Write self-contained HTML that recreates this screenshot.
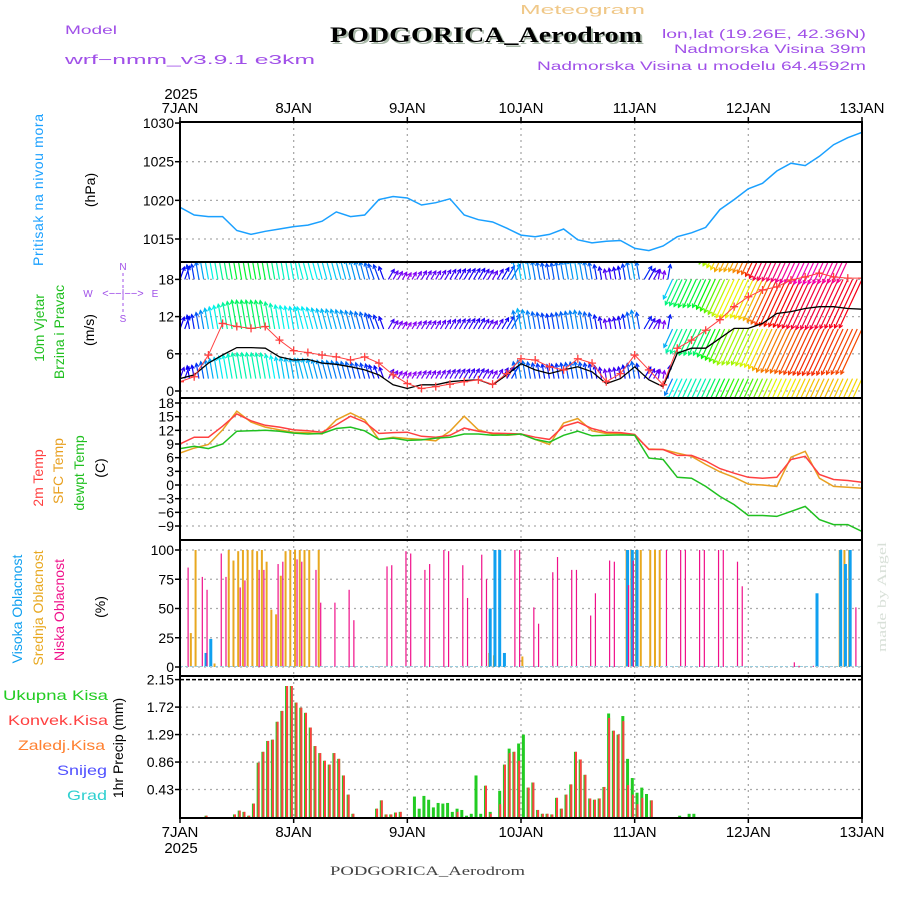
<!DOCTYPE html>
<html><head><meta charset="utf-8"><style>
html,body{margin:0;padding:0;background:#fff;width:900px;height:900px;overflow:hidden}
svg text{font-family:"Liberation Sans",sans-serif}
</style></head><body>
<svg id="chart" xmlns="http://www.w3.org/2000/svg" width="900" height="900" viewBox="0 0 900 900">
<defs>
<clipPath id="clipP"><rect x="180" y="122" width="682" height="140"/></clipPath>
<clipPath id="clipW"><rect x="180" y="262" width="682" height="136"/></clipPath>
<clipPath id="clipT"><rect x="180" y="398" width="682" height="142"/></clipPath>
</defs>
<g>
<text x="65" y="34" font-size="12" fill="#a050e8" textLength="52" lengthAdjust="spacingAndGlyphs">Model</text>
<text x="65" y="64" font-size="13" fill="#a050e8" textLength="250" lengthAdjust="spacingAndGlyphs">wrf−nmm_v3.9.1 e3km</text>
<text x="520" y="14" font-size="13" fill="#f0c888" textLength="125" lengthAdjust="spacingAndGlyphs">Meteogram</text>
<text x="332" y="44" font-size="22" font-weight="bold" fill="#a8b8a8" style="font-family:'Liberation Serif',serif" textLength="312" lengthAdjust="spacingAndGlyphs">PODGORICA_Aerodrom</text>
<text x="330" y="42" font-size="22" font-weight="bold" fill="#000" style="font-family:'Liberation Serif',serif" textLength="312" lengthAdjust="spacingAndGlyphs">PODGORICA_Aerodrom</text>
<text x="866" y="38" font-size="11.5" fill="#a050e8" text-anchor="end" textLength="204" lengthAdjust="spacingAndGlyphs">lon,lat (19.26E, 42.36N)</text>
<text x="866" y="53" font-size="11.5" fill="#a050e8" text-anchor="end" textLength="192" lengthAdjust="spacingAndGlyphs">Nadmorska Visina 39m</text>
<text x="866" y="70" font-size="11.5" fill="#a050e8" text-anchor="end" textLength="329" lengthAdjust="spacingAndGlyphs">Nadmorska Visina u modelu 64.4592m</text>
<text x="330" y="875" font-size="13" fill="#444" style="font-family:'Liberation Serif',serif" textLength="195" lengthAdjust="spacingAndGlyphs">PODGORICA_Aerodrom</text>
<text transform="translate(886,652) rotate(-90)" font-size="13" fill="#d8e0d8" textLength="110" lengthAdjust="spacingAndGlyphs" style="font-family:'Liberation Serif',serif">made by Angel</text>
</g>
<g font-size="14">
<text transform="translate(43,190) rotate(-90)" text-anchor="middle" fill="#1aa0ff" textLength="152">Pritisak na nivou mora</text>
<text transform="translate(95,190) rotate(-90)" text-anchor="middle" fill="#000">(hPa)</text>
<text transform="translate(44,328) rotate(-90)" text-anchor="middle" fill="#20c020">10m Vjetar</text>
<text transform="translate(64,332) rotate(-90)" text-anchor="middle" fill="#20c020">Brzina i Pravac</text>
<text transform="translate(94,330) rotate(-90)" text-anchor="middle" fill="#000">(m/s)</text>
<g fill="#a050e8" font-size="10" text-anchor="middle">
<text x="123" y="270">N</text><text x="88" y="297">W</text><text x="155" y="297">E</text><text x="123" y="322">S</text>
<text x="123" y="297" font-size="11">&lt;−−|−−&gt;</text>
<line x1="123" y1="273" x2="123" y2="312" stroke="#a050e8" stroke-dasharray="3,3"/>
</g>
<text transform="translate(43,478) rotate(-90)" text-anchor="middle" fill="#ff4040">2m Temp</text>
<text transform="translate(63,471) rotate(-90)" text-anchor="middle" fill="#e8a020">SFC Temp</text>
<text transform="translate(84,473) rotate(-90)" text-anchor="middle" fill="#20c020">dewpt Temp</text>
<text transform="translate(105,468) rotate(-90)" text-anchor="middle" fill="#000">(C)</text>
<text transform="translate(22,609) rotate(-90)" text-anchor="middle" fill="#10a0f0">Visoka Oblacnost</text>
<text transform="translate(43,608) rotate(-90)" text-anchor="middle" fill="#e8a820">Srednja Oblacnost</text>
<text transform="translate(64,610) rotate(-90)" text-anchor="middle" fill="#f0108a">Niska Oblacnost</text>
<text transform="translate(105,607) rotate(-90)" text-anchor="middle" fill="#000">(%)</text>
<text transform="translate(123,748) rotate(-90)" text-anchor="middle" fill="#000">1hr Precip (mm)</text>
<text x="3" y="700" fill="#22cc22" textLength="105" lengthAdjust="spacingAndGlyphs">Ukupna Kisa</text>
<text x="8" y="725" fill="#ff4040" textLength="100" lengthAdjust="spacingAndGlyphs">Konvek.Kisa</text>
<text x="18" y="750" fill="#ff8030" textLength="87" lengthAdjust="spacingAndGlyphs">Zaledj.Kisa</text>
<text x="57" y="775" fill="#5050ff" textLength="50" lengthAdjust="spacingAndGlyphs">Snijeg</text>
<text x="67" y="800" fill="#30d0d0" textLength="40" lengthAdjust="spacingAndGlyphs">Grad</text>
</g>
<g id="grid"></g>
<g id="marks"></g>
<g id="frames"></g>
</svg>
<script>
// ---- data ----
const dayLabels = ["7JAN","8JAN","9JAN","10JAN","11JAN","12JAN","13JAN"];
// 3-hourly series, hours 0..144
const pressure = [1019.1,1018.1,1017.9,1017.9,1016.1,1015.6,1016.0,1016.3,1016.6,1016.8,1017.3,1018.5,1017.9,1018.1,1020.1,1020.5,1020.3,1019.4,1019.7,1020.2,1018.1,1017.5,1017.2,1016.4,1015.5,1015.3,1015.6,1016.3,1014.9,1014.5,1014.7,1014.8,1013.8,1013.5,1014.1,1015.3,1015.8,1016.5,1018.8,1020.1,1021.5,1022.2,1023.8,1024.8,1024.5,1025.7,1027.2,1028.1,1028.8];
const windSpeed = [2.0,2.6,4.5,5.8,7.0,7.0,6.9,5.5,5.0,5.1,4.5,4.3,3.9,3.4,2.6,1.0,0.4,1.0,1.0,1.5,1.7,1.8,1.0,2.6,4.4,3.4,2.8,3.4,3.9,3.1,1.2,2.0,3.9,1.8,0.7,6.1,6.9,6.9,8.5,10.1,10.1,10.9,12.5,12.8,13.3,13.6,13.6,13.3,13.2];
const windGust = [1.5,2.3,5.8,10.9,10.4,10.1,10.4,8.2,6.5,6.2,5.8,5.5,5.0,5.5,4.5,2.6,1.2,0.4,0.7,1.1,1.5,1.8,1.1,2.8,5.2,5.0,3.9,3.4,5.2,4.5,1.5,2.8,5.8,3.4,1.0,6.9,8.2,9.8,11.5,13.6,15.2,16.3,16.8,17.9,18.4,19.0,18.4,18.2,18.2];
const windDir = [70,100,100,100,100,100,100,100,100,105,105,105,105,105,110,60,60,60,60,60,60,60,60,60,100,100,100,100,100,100,100,100,100,60,80,245,245,245,245,245,245,245,245,245,245,245,245,245,245];
const temp2m = [9.0,10.5,10.5,12.9,15.6,14.1,13.1,12.7,12.1,11.9,11.6,13.2,15.1,13.8,11.3,11.5,11.6,10.7,10.5,10.9,12.5,11.8,11.4,11.3,11.2,10.5,10.0,12.9,13.8,12.4,11.6,11.5,11.1,7.8,7.8,6.5,6.5,5.3,3.6,2.6,1.7,1.5,1.7,5.6,6.3,2.3,1.2,1.0,0.6];
const tempSfc = [7.0,8.1,8.9,12.1,16.2,13.8,12.7,12.1,11.6,11.5,11.2,14.3,15.8,14.3,10.0,10.5,10.2,10.0,9.7,11.8,15.1,12.1,11.2,10.9,11.2,10.0,8.9,13.6,14.6,11.9,11.3,11.3,10.9,7.9,7.8,7.0,6.3,4.5,2.9,1.7,0.2,0.0,-0.3,6.1,7.4,1.5,-0.3,-0.5,-0.7];
const tempDew = [8.0,8.5,8.0,9.0,11.8,11.9,12.0,11.8,11.4,11.2,11.3,12.4,12.7,11.9,10.0,10.3,9.8,9.9,10.3,10.5,11.2,11.2,10.9,11.0,11.2,10.0,9.4,10.9,11.8,10.8,10.9,11.0,10.9,5.9,5.6,1.7,1.5,-0.3,-2.5,-4.3,-6.7,-6.7,-6.9,-5.8,-4.7,-7.6,-8.7,-8.7,-10.2];
// hourly precipitation (hour index, total mm, convective mm)
const precipHour = [5,11,12,13,14,15,16,17,18,19,20,21,22,23,24,25,26,27,28,29,30,31,32,33,34,35,36,41,42,43,44,45,46,49,50,51,52,53,54,55,56,57,58,59,60,61,62,63,64,65,67,68,69,70,71,72,73,74,75,76,77,78,79,80,81,82,83,84,85,86,87,88,89,90,91,92,93,94,95,96,97,98,99,105,107,108];
const precipTotal = [.02,.04,.10,.08,.02,.21,.85,1.02,1.19,1.21,1.49,1.66,2.05,2.05,1.79,1.71,1.63,1.40,1.11,1.00,.88,.82,1.00,.91,.65,.35,.05,.13,.26,.04,.04,.07,.08,.32,.13,.33,.27,.15,.22,.21,.22,.08,.13,.11,.02,.05,.65,.05,.49,.08,.41,.82,1.07,1.02,1.15,1.29,.46,.54,.11,.05,.05,.04,.30,.13,.35,.51,1.02,.90,.66,.29,.27,.29,.47,1.62,1.35,1.29,1.58,.91,.61,.38,.46,.36,.26,.02,.05,.05];
const precipConv = [.02,.04,.10,.08,.02,.21,.85,1.02,1.19,1.21,1.49,1.66,2.05,2.05,1.79,1.71,1.63,1.40,1.11,1.00,.88,.82,1.00,.91,.65,.35,.05,.13,.26,.04,.04,.07,.08,0,0,0,0,0,0,0,0,0,.08,0,0,0,0,0,.49,.05,.2,.82,1.0,1.02,.88,0,.46,.54,.11,.05,.05,.04,.30,.13,.35,.51,1.02,.90,.66,.29,.27,.29,.47,1.55,1.35,1.29,1.5,.5,.35,.2,.3,0,.26,0,0,0];
// cloud cover bars (hour index, %)
const lowHour = [1,4,5,8,9,12,13,16,17,20,21,24,25,28,29,32,35,36,43,44,47,48,51,52,55,56,59,60,63,64,70,71,74,75,78,79,82,83,86,87,90,91,94,95,102,105,106,109,110,113,114,117,118,129,130,133,142];
const lowVal = [85,77,66,97,77,68,74,83,83,88,90,92,90,83,55,55,66,40,86,87,99,97,83,88,100,99,87,59,96,75,100,100,51,37,81,94,83,83,44,63,91,90,70,91,100,100,100,100,100,100,100,90,69,4,1,1,51];
const midHour = [2,3,7,10,11,12,13,14,15,16,17,18,19,20,21,22,23,24,25,26,27,29,65,66,72,94,95,96,97,99,100,101,139,140,141];
const midVal = [29,100,3,100,91,99,100,100,100,99,100,90,49,45,78,99,100,100,100,100,100,100,12,10,9,100,100,100,100,100,100,100,100,100,100];
const highHour = [5,6,65,66,67,68,94,95,96,134,139,140,141];
const highVal = [12,24,50,100,100,12,100,100,100,63,100,88,100];
// tick labels
const pTicks = [1030,1025,1020,1015];
const wTicks = [18,12,6,0];
const tTicks = [18,15,12,9,6,3,0,-3,-6,-9];
const cTicks = [100,75,50,25,0];
const rTicks = [2.15,1.72,1.29,0.86,0.43];
const windRows = [2,10,18,26];

// ---- scales ----
const X0=180, X1=862;
const xH = h => X0 + h*(X1-X0)/144;
const yP = p => 239 - (p-1015)*7.73;
const yW = w => 391 - w*6.2;
const yT = t => 403 + (18-t)*4.556;
const yC = c => 667 - c*1.17;
const yR = v => 817 - v*63.9;
const NS="http://www.w3.org/2000/svg";
function mk(tag, attrs, parent){const e=document.createElementNS(NS,tag);for(const k in attrs)e.setAttribute(k,attrs[k]);parent.appendChild(e);return e;}
const grid=document.getElementById('grid'), marks=document.getElementById('marks'), frames=document.getElementById('frames');

const panels=[{top:122,bot:262,ticks:pTicks,f:yP,name:'pressure'},
 {top:262,bot:398,ticks:wTicks,f:yW,name:'wind'},
 {top:398,bot:540,ticks:tTicks,f:yT,name:'temp'},
 {top:540,bot:676,ticks:cTicks,f:yC,name:'cloud'},
 {top:676,bot:818,ticks:rTicks,f:yR,name:'precip'}];
panels.forEach(p=>{
  for(let d=1;d<6;d++){const l=mk('line',{x1:xH(d*24),x2:xH(d*24),y1:p.top,y2:p.bot,stroke:'#aaa','stroke-width':1.3,'stroke-dasharray':'2,4'},grid);
    
    }
  p.ticks.forEach(t=>{const y=p.f(t);
    if(y>p.top+4&&y<p.bot-4){const l=mk('line',{x1:X0,x2:X1,y1:y,y2:y,stroke:'#aaa','stroke-width':1.3,'stroke-dasharray':'2,4'},grid);
      
      }
    mk('line',{x1:X0-5,x2:X0,y1:y,y2:y,stroke:'#000','stroke-width':1.5},frames);
    const tx=mk('text',{x:X0-6,y:y+5,'font-size':14,'text-anchor':'end',fill:'#000'},frames);
    tx.textContent = p.name==='precip'? t.toFixed(2) : String(t).replace('-','−');
    
    
  });
});
function line(arr, f, color, name, clip, w){
  const pts=arr.map((v,i)=>xH(i*3).toFixed(1)+','+f(v).toFixed(1)).join(' ');
  const e=mk('polyline',{points:pts,fill:'none',stroke:color,'stroke-width':w||1.5,'clip-path':clip},marks);
  
  
}
line(pressure,yP,'#1aa0ff','pressure-line','url(#clipP)');
// wind vectors
function hue(s){return ((285 - s*22)%360+360)%360;}
const rowFactor=[0.8,0.92,1.0,1.1];
const wg=mk('g',{'clip-path':'url(#clipW)'},marks);


for(let h=0;h<=144;h++){
  const i=Math.min(47,Math.floor(h/3)), fr=(h-i*3)/3;
  const s=windSpeed[i]+(windSpeed[i+1]-windSpeed[i])*fr;
  const d=(fr<0.5?windDir[i]:windDir[i+1])*Math.PI/180;
  windRows.forEach((b,r)=>{
    const ss=s*rowFactor[r], L=ss*3.6+6;
    const x0=xH(h), y0=yW(b), x1=x0+Math.cos(d)*L, y1=y0-Math.sin(d)*L;
    const col='hsl('+hue(ss)+',100%,48%)';
    const ln=mk('line',{x1:x0,y1:y0,x2:x1,y2:y1,stroke:col,'stroke-width':1.2},wg);
    
    
    const a1=d+Math.PI-0.5,a2=d+Math.PI+0.5;
    mk('polyline',{points:(x1+Math.cos(a1)*4)+','+(y1-Math.sin(a1)*4)+' '+x1+','+y1+' '+(x1+Math.cos(a2)*4)+','+(y1-Math.sin(a2)*4),fill:'none',stroke:col,'stroke-width':1.2},wg);
  });
}
line(windSpeed,yW,'#000','wind-speed-line','url(#clipW)',1.3);
const gg=mk('g',{'clip-path':'url(#clipW)'},marks);


mk('polyline',{points:windGust.map((v,i)=>xH(i*3)+','+yW(v)).join(' '),fill:'none',stroke:'#ff4040','stroke-width':1},gg);
windGust.forEach((v,i)=>{const x=xH(i*3),y=yW(v);
  const c=mk('path',{d:`M${x-4},${y}H${x+4}M${x},${y-4}V${y+4}`,stroke:'#ff4040','stroke-width':1.3},gg);
  
  });
// temperatures
line(tempSfc,yT,'#e8a020','sfc-temp-line','url(#clipT)');
line(temp2m,yT,'#ff4040','temp-2m-line','url(#clipT)');
line(tempDew,yT,'#20c020','dewpoint-line','url(#clipT)');
// clouds
function bars(hours,vals,color,w,name,off){
  hours.forEach((k,i)=>{const x=xH(k+0.5)+off;const y=yC(vals[i]);
    const r=mk('rect',{x:x-w/2,y:y,width:w,height:667-y,fill:color},marks);
    
    });
}
bars(midHour,midVal,'#e8a820',2,'mid-cloud-bar',-1);
bars(highHour,highVal,'#10a0f0',3,'high-cloud-bar',0);
bars(lowHour,lowVal,'#f0108a',1.2,'low-cloud-bar',1);
mk('line',{x1:X0,x2:X1,y1:666.5,y2:666.5,stroke:'#9cd',"stroke-width":1,'stroke-dasharray':'3,2'},marks);
// precip
precipHour.forEach((k,i)=>{const x=xH(k+0.5);
  const g=mk('rect',{x:x-1.5,y:yR(precipTotal[i]),width:3,height:817-yR(precipTotal[i]),fill:'#22cc22'},marks);
  
  
  if(precipConv[i]>0){const r=mk('rect',{x:x-0.5,y:yR(precipConv[i]),width:2,height:817-yR(precipConv[i]),fill:'#ff4040'},marks);
    
    }
});
mk('line',{x1:X0,x2:X1,y1:yR(2.15),y2:yR(2.15),stroke:'#000','stroke-width':1.5,'stroke-dasharray':'4,2'},frames);
// frames
panels.forEach(p=>{const r=mk('rect',{x:X0,y:p.top,width:X1-X0,height:p.bot-p.top,fill:'none',stroke:'#000','stroke-width':2},frames);
  
  });
// date axes
dayLabels.forEach((l,d)=>{const x=xH(d*24);
  [[108,122,-5],[832,818,5]].forEach(([ty,ay,dir])=>{
    mk('line',{x1:x,x2:x,y1:ay,y2:ay+dir,stroke:'#000','stroke-width':1.5},frames);
    const t=mk('text',{x:x,y:ty+5,'font-size':15,'text-anchor':'middle',fill:'#000'},frames);
    t.textContent=l;
    
    });
});
[[99],[853]].forEach(([y])=>{const t=mk('text',{x:181,y:y,'font-size':15,'text-anchor':'middle',fill:'#000'},frames);
  t.textContent='2025';
  
  });
</script>
</body></html>
